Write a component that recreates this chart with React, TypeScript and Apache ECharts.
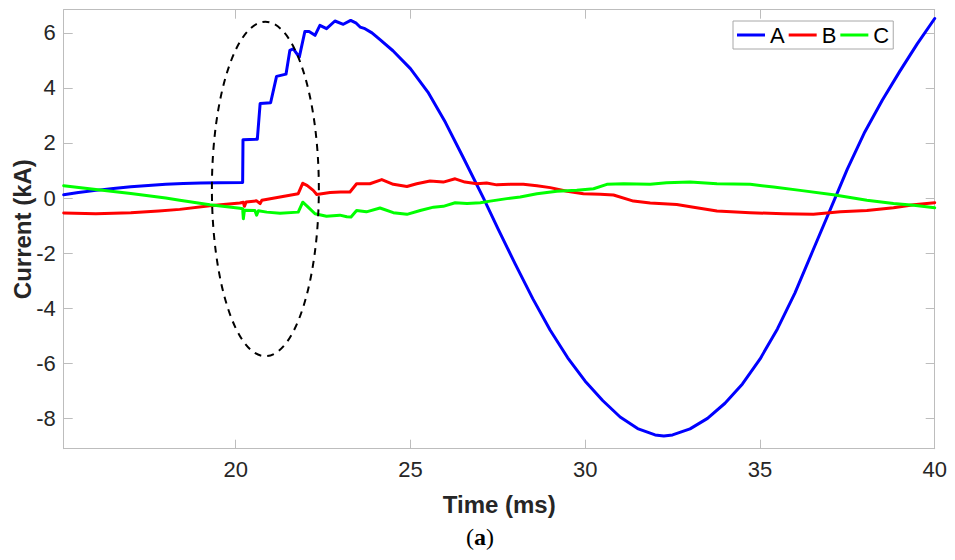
import React, { useEffect, useRef } from "react";
import * as echarts from "echarts";

// ---- Data ----
const seriesNames = ["A", "B", "C"];

const timeA = [15.08, 15.5, 16, 16.5, 17, 17.5, 18, 18.5, 19, 19.5, 20.2, 20.21, 20.62, 20.7, 21.0, 21.17, 21.44, 21.55, 21.65, 21.82, 21.98, 22.1, 22.27, 22.41, 22.6, 22.84, 23.08, 23.29, 23.45, 23.56, 23.7, 23.9, 24.13, 24.5, 25, 25.5, 26, 26.5, 27.09, 27.5, 28, 28.5, 29, 29.5, 30, 30.5, 31, 31.5, 32, 32.25, 32.5, 33, 33.5, 34, 34.5, 35, 35.5, 36, 36.5, 37.15, 37.5, 38, 38.5, 39, 39.5, 40];
const currentA = [0.12, 0.2, 0.28, 0.35, 0.41, 0.46, 0.5, 0.53, 0.55, 0.56, 0.57, 2.12, 2.14, 3.43, 3.46, 4.42, 4.5, 5.36, 5.42, 5.12, 6.05, 6.05, 5.91, 6.27, 6.15, 6.43, 6.31, 6.45, 6.35, 6.21, 6.15, 6.0, 5.75, 5.35, 4.7, 3.85, 2.75, 1.5, 0, -1.1, -2.4, -3.65, -4.8, -5.8, -6.65, -7.35, -7.95, -8.37, -8.6, -8.64, -8.6, -8.38, -8.0, -7.45, -6.75, -5.85, -4.75, -3.45, -1.95, 0, 1.05, 2.4, 3.55, 4.6, 5.6, 6.52];

const timeB = [15.08, 16, 17, 17.8, 18.4, 19.26, 20.12, 20.22, 20.25, 20.3, 20.6, 20.7, 20.75, 21.27, 21.79, 21.92, 22.05, 22.22, 22.32, 22.7, 23.0, 23.27, 23.46, 23.84, 24.18, 24.51, 24.9, 25.18, 25.56, 25.94, 26.28, 26.56, 26.9, 27.18, 27.47, 27.85, 28.23, 28.62, 29.0, 29.48, 29.95, 30.43, 30.81, 31.38, 31.86, 32.62, 33.1, 33.77, 34.72, 35.67, 36.53, 37.3, 38.06, 38.82, 39.4, 40];
const currentB = [-0.54, -0.57, -0.53, -0.47, -0.41, -0.28, -0.18, -0.15, -0.3, -0.14, -0.1, -0.2, -0.08, 0.04, 0.16, 0.54, 0.45, 0.28, 0.13, 0.2, 0.22, 0.22, 0.52, 0.52, 0.67, 0.5, 0.42, 0.52, 0.62, 0.58, 0.7, 0.58, 0.52, 0.55, 0.48, 0.5, 0.5, 0.45, 0.38, 0.25, 0.16, 0.14, 0.11, -0.11, -0.18, -0.23, -0.33, -0.47, -0.53, -0.57, -0.59, -0.5, -0.45, -0.35, -0.24, -0.17];

const timeC = [15.08, 16, 17, 18, 18.4, 19.26, 20.12, 20.2, 20.22, 20.25, 20.55, 20.6, 20.65, 20.89, 21.27, 21.79, 21.92, 22.05, 22.27, 22.6, 22.98, 23.18, 23.3, 23.46, 23.74, 24.13, 24.51, 24.9, 25.28, 25.66, 25.94, 26.28, 26.62, 27.0, 27.28, 27.76, 28.14, 28.62, 29.19, 29.76, 30.24, 30.62, 31.1, 31.86, 32.33, 33.0, 33.77, 34.72, 35.39, 36.15, 37.1, 38.06, 38.82, 39.4, 40];
const currentC = [0.45, 0.31, 0.17, 0.0, -0.08, -0.24, -0.37, -0.39, -0.75, -0.44, -0.45, -0.62, -0.46, -0.51, -0.55, -0.51, -0.15, -0.3, -0.57, -0.66, -0.62, -0.68, -0.69, -0.45, -0.5, -0.36, -0.53, -0.59, -0.45, -0.33, -0.3, -0.17, -0.2, -0.17, -0.11, -0.02, 0.04, 0.16, 0.25, 0.28, 0.34, 0.5, 0.52, 0.5, 0.56, 0.58, 0.52, 0.5, 0.4, 0.28, 0.12, -0.08, -0.2, -0.26, -0.35];

const xTicks = [20, 25, 30, 35, 40];
const yTicks = [-8, -6, -4, -2, 0, 2, 4, 6];
const xRange = [15.08, 40];
const yRange = [-9.1, 6.84];

// dashed ellipse annotation (data units: centre time, centre current, half-widths)
const ellipseCentre = [20.85, 0.33];
const ellipseRadii = [1.53, 6.07];

const colors = ["#0000ff", "#ff0000", "#00ff00"];

export default function App() {
  const ref = useRef<HTMLDivElement>(null);

  useEffect(() => {
    if (!ref.current) return;
    const chart = echarts.init(ref.current, null, { renderer: "svg" });
    const zip = (t: number[], v: number[]) => t.map((x, i) => [x, v[i]]);
    const axisColor = "#bdbdbd";
    const font = "'Liberation Sans', Arial, Helvetica, sans-serif";
    const textColor = "#262626";

    const baseX = {
      type: "value",
      min: xRange[0],
      max: xRange[1],
      splitLine: { show: false },
      axisLine: { show: true, onZero: false, lineStyle: { color: axisColor, width: 1 } },
      axisTick: { show: true, inside: true, length: 9, customValues: xTicks, lineStyle: { color: axisColor } },
    };
    const baseY = {
      type: "value",
      min: yRange[0],
      max: yRange[1],
      splitLine: { show: false },
      axisLine: { show: true, onZero: false, lineStyle: { color: axisColor, width: 1 } },
      axisTick: { show: true, inside: true, length: 9, customValues: yTicks, lineStyle: { color: axisColor } },
    };

    const datasets = [zip(timeA, currentA), zip(timeB, currentB), zip(timeC, currentC)];

    chart.setOption({
      animation: false,
      backgroundColor: "#ffffff",
      grid: {
        left: 63.7,
        right: 20.3,
        top: 9.7,
        bottom: 111.3,
        containLabel: false,
        outerBoundsMode: "none",
      },
      xAxis: [
        {
          ...baseX,
          position: "bottom",
          axisLabel: { customValues: xTicks, color: textColor, fontSize: 22, fontFamily: font, margin: 10 },
          name: "Time (ms)",
          nameLocation: "middle",
          nameGap: 44,
          nameMoveOverlap: false,
          nameTextStyle: { fontWeight: "bold", fontSize: 24, color: textColor, fontFamily: font },
        },
        { ...baseX, position: "top", axisLabel: { show: false } },
      ],
      yAxis: [
        {
          ...baseY,
          position: "left",
          axisLabel: { customValues: yTicks, color: textColor, fontSize: 22, fontFamily: font, margin: 8 },
          name: "Current (kA)",
          nameLocation: "middle",
          nameGap: 29,
          nameMoveOverlap: false,
          nameTextStyle: { fontWeight: "bold", fontSize: 24, color: textColor, fontFamily: font },
        },
        { ...baseY, position: "right", axisLabel: { show: false } },
      ],
      legend: {
        data: seriesNames,
        left: 733,
        top: 21,
        orient: "horizontal",
        icon: "rect",
        itemWidth: 28,
        itemHeight: 3,
        itemGap: 4,
        padding: [3, 4, 3, 4],
        borderColor: "#a8a8a8",
        borderWidth: 1,
        backgroundColor: "#ffffff",
        textStyle: { fontSize: 22, color: "#000000", fontFamily: font },
      },
      series: seriesNames.map((name, i) => ({
        name,
        type: "line",
        xAxisIndex: 0,
        yAxisIndex: 0,
        data: datasets[i],
        showSymbol: false,
        symbol: "none",
        smooth: false,
        color: colors[i],
        lineStyle: { color: colors[i], width: 3, join: "round", cap: "round" },
        itemStyle: { color: colors[i] },
        z: 2 + i,
      })),
    });

    const c = chart.convertToPixel({ xAxisIndex: 0, yAxisIndex: 0 }, ellipseCentre) as number[];
    const e = chart.convertToPixel({ xAxisIndex: 0, yAxisIndex: 0 }, [
      ellipseCentre[0] + ellipseRadii[0],
      ellipseCentre[1] + ellipseRadii[1],
    ]) as number[];

    chart.setOption({
      graphic: [
        {
          type: "ellipse",
          z: 20,
          shape: { cx: c[0], cy: c[1], rx: Math.abs(e[0] - c[0]), ry: Math.abs(c[1] - e[1]) },
          style: { fill: "none", stroke: "#000000", lineWidth: 2, lineDash: [7, 6] },
        },
        {
          type: "text",
          z: 20,
          x: 480,
          y: 537,
          style: {
            text: "{n|(}{b|a}{n|)}",
            align: "center",
            verticalAlign: "middle",
            rich: {
              n: { fontSize: 24, fontFamily: "'Liberation Serif', 'DejaVu Serif', serif", fill: "#000" },
              b: { fontSize: 24, fontWeight: "bold", fontFamily: "'Liberation Serif', 'DejaVu Serif', serif", fill: "#000" },
            },
          },
        },
      ],
    });

    return () => chart.dispose();
  }, []);

  return <div ref={ref} style={{ width: 955, height: 560, position: "absolute", left: 0, top: 0 }} />;
}
